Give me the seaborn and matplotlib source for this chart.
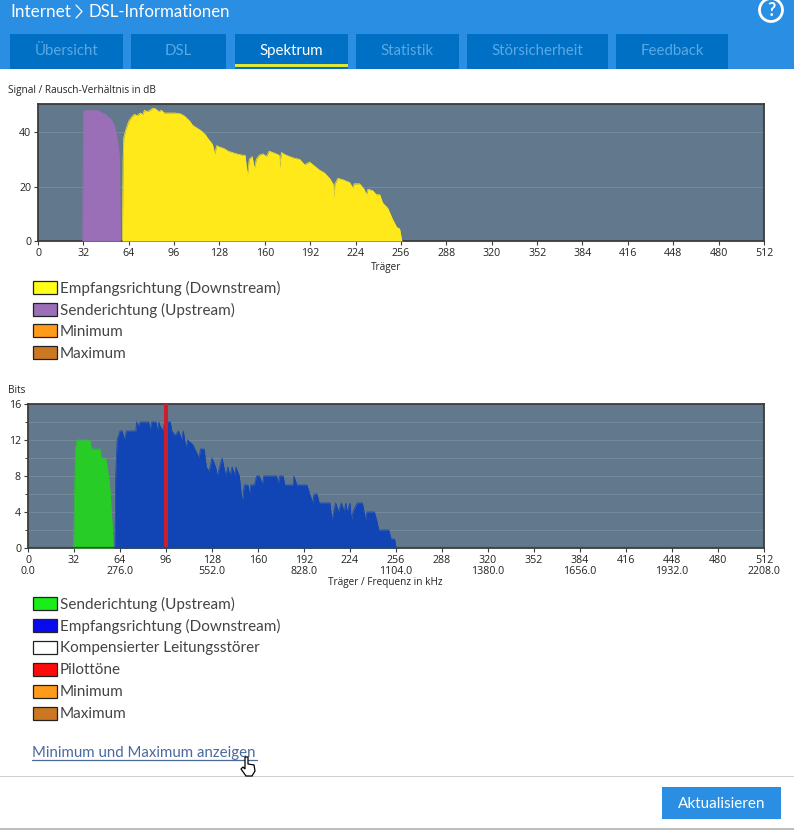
import matplotlib
matplotlib.use("Agg")
import matplotlib.pyplot as plt
import seaborn as sns
from matplotlib.patches import Rectangle, Circle, Polygon

W, H = 794, 830

# --- data
snr_down_x = [59.5, 60, 60.5, 62, 64, 66, 68, 70, 72, 74, 75, 77, 79, 81, 83, 85, 87, 89, 92, 96, 100, 103, 105, 107,
              109, 112, 115, 118, 120, 123, 124.6, 126, 128, 131, 134, 137, 140, 144, 146, 147.6, 149, 151, 152.5,
              154, 156, 158.7, 161, 163, 168, 170, 170.4, 171.6, 175, 180, 184.5, 188, 191.5, 195, 198.6, 202,
              205.6, 208, 208.7, 209.4, 211.5, 215, 219.7, 222, 223, 226.8, 230, 231.5, 232.7, 236, 238.5, 241,
              243, 246.7, 250, 253, 255, 256.6]
snr_down_y = [0, 30, 38, 41, 44, 45.5, 46.5, 46, 47, 46.5, 48, 47.5, 48, 48.8, 48.5, 47.5, 48, 47, 47, 47, 46.8, 46,
              45, 44, 42.5, 41.5, 40.5, 39, 37.5, 35.5, 32, 35, 34.5, 34, 33, 32.5, 32, 31.5, 31.5, 24, 30, 31, 26.6,
              30, 31.5, 32, 31, 33, 32, 31.5, 27, 32.5, 31.5, 30.5, 30, 28, 29, 27.5, 26, 25, 23, 21, 16, 21, 23,
              22.5, 21.5, 19.5, 21, 21, 19, 17, 19, 18.5, 17, 17, 14, 12, 8, 5, 4.5, 0]
snr_up_x = [31.5, 32, 33, 42, 45, 48, 49, 51, 53, 54, 55, 56, 57, 57.5, 58]
snr_up_y = [0, 47, 48, 48, 47, 46.5, 45.5, 45, 43.5, 42, 40, 37, 33, 28, 0]

bits_up_x = [31.7, 33, 34, 43, 44, 50, 51, 54, 55, 56, 57, 58, 59.4]
bits_up_y = [0, 11, 12, 12, 11, 11, 10, 10, 9, 8, 6.5, 4, 0]
bits_down_x = [60.5, 61, 62, 63, 64, 65.5, 67, 68.5, 75, 75.5, 77, 78, 84, 85, 86, 89, 90, 91, 92, 94, 95, 99, 100,
               102.3, 104.7, 107, 108, 110, 111, 114.5, 116, 119, 120, 122.5, 124, 126, 128, 130.5, 131.7, 135,
               137.5, 139, 140.6, 142, 144, 144.6, 147, 149, 150.5, 153, 154, 155, 157.5, 159, 161, 163, 164, 173,
               174, 175, 177.5, 178.6, 184.5, 185, 187, 190, 191.5, 194, 196, 198, 199, 201, 202.6, 210, 211.5,
               212.6, 214, 216, 218, 220, 221, 222, 224, 225, 226, 229, 232.6, 235, 235.7, 241, 242.7, 244, 251,
               252.6, 255, 256]
bits_down_y = [0, 8, 12, 12.5, 13, 13, 12, 13, 13, 14, 13.5, 14, 14, 13, 14, 14, 13, 14, 13.5, 13, 14, 14, 13, 12.5,
               13, 12, 13, 11, 12, 11.5, 11, 10, 11, 11, 9, 8.5, 10, 9, 8, 10, 8, 9, 8, 9, 8, 9, 8, 5, 7, 7, 6, 7, 7,
               8, 8, 7, 8, 8, 7, 8, 8, 7, 7, 8, 7, 7, 7, 7, 6, 5, 6, 6, 5, 5, 3, 4, 5, 4, 5, 4, 5, 4, 5, 3, 4, 5, 5,
               3, 4, 4, 3, 2, 2, 1, 1, 0]
pilot_tones = [96]

carrier_ticks = list(range(0, 513, 32))
freq_labels = ["0.0", "276.0", "552.0", "828.0", "1104.0", "1380.0", "1656.0", "1932.0", "2208.0"]

tabs = ["Übersicht", "DSL", "Spektrum", "Statistik", "Störsicherheit", "Feedback"]
tab_edges = [(10, 123), (131, 226), (235, 348), (356, 459), (467, 608), (616, 728)]
legend_top = [("Empfangsrichtung (Downstream)", "#ffff19"), ("Senderichtung (Upstream)", "#9b6fb8"),
              ("Minimum", "#ff9a1a"), ("Maximum", "#cc7722")]
legend_bottom = [("Senderichtung (Upstream)", "#19ee19"), ("Empfangsrichtung (Downstream)", "#0a0aee"),
                 ("Kompensierter Leitungsstörer", "#ffffff"), ("Pilottöne", "#ff0a0a"),
                 ("Minimum", "#ff9a1a"), ("Maximum", "#cc7722")]

SMALL_FONT = ["Open Sans", "DejaVu Sans"]

sns.set_style("white")
plt.rcParams["font.family"] = ["Lato", "DejaVu Sans"]

fig = plt.figure(figsize=(W / 100, H / 100), dpi=100)

# page chrome in pixel coordinates
ui = fig.add_axes([0, 0, 1, 1])
ui.set_xlim(0, W)
ui.set_ylim(H, 0)
ui.axis("off")


def box(x0, y0, x1, y1, color, **kw):
    ui.add_patch(Rectangle((x0, y0), x1 - x0, y1 - y0, facecolor=color, edgecolor=kw.pop("edge", "none"), **kw))


box(0, 0, W, 69, "#2a8ee2")
ui.text(10, 12, "Internet", color="white", fontsize=12.3, va="center")
ui.plot([76, 82, 76], [5, 11.5, 18], color="white", lw=0.9)
ui.text(89, 12, "DSL-Informationen", color="white", fontsize=12.1, va="center")
ui.add_patch(Circle((771, 10), 11.5, facecolor="none", edgecolor="white", lw=2))
ui.text(771, 10.5, "?", color="white", fontsize=13, fontweight="bold", ha="center", va="center")

for name, (x0, x1) in zip(tabs, tab_edges):
    box(x0, 34, x1, 69, "#0070c4")
    active = name == "Spektrum"
    ui.text((x0 + x1) / 2, 51, name, color="white" if active else "#5aa9e6", fontsize=10.8, ha="center", va="center")
    if active:
        box(x0, 64, x1, 67, "#dfe63a")

ui.text(8, 90.5, "Signal / Rausch-Verhältnis in dB", fontsize=7.2, color="#222222", va="center", family=SMALL_FONT)
ui.text(8, 390.5, "Bits", fontsize=7.2, color="#222222", va="center", family=SMALL_FONT)

for rows, start in ((legend_top, 287), (legend_bottom, 603)):
    for i, (label, color) in enumerate(rows):
        y = start + i * 22
        box(33, y - 6.5, 57, y + 6.5, color, edge="#222222", lw=0.9)
        ui.text(60, y + 1, label, fontsize=10.95, color="#444444", va="center")

ui.text(32, 753, "Minimum und Maximum anzeigen", fontsize=10.85, color="#4a6a9c", va="center")
ui.plot([32, 257], [759.5, 759.5], color="#4a6a9c", lw=0.9)
ui.add_patch(Polygon([(245, 757), (248, 757), (248, 764), (254, 765), (255, 771), (252, 776), (246, 776), (241, 769),
                      (243, 767), (245, 769)], facecolor="white", edgecolor="black", lw=0.9, zorder=5))

box(0, 776, W, 777, "#cfcfcf")
box(662, 787, 781, 819, "#2a8ee2")
ui.text(721.5, 804, "Aktualisieren", color="white", fontsize=10.95, ha="center", va="center")
box(0, 828, W, 830, "#bdbdbd")


def chart_axes(x0, y0, x1, y1):
    ax = fig.add_axes([x0 / W, 1 - y1 / H, (x1 - x0) / W, (y1 - y0) / H])
    ax.set_facecolor("#62788d")
    ax.set_xlim(0, 512)
    ax.set_xticks(carrier_ticks)
    for side in ax.spines.values():
        side.set_color("#3c3c3c")
        side.set_linewidth(1.3)
    ax.tick_params(axis="both", which="major", length=3, width=0.8, color="#3c3c3c", labelsize=7.7, pad=2,
                   labelcolor="#222222", bottom=True, left=True)
    for lab in ax.get_xticklabels() + ax.get_yticklabels():
        lab.set_family(SMALL_FONT)
    return ax


def area(ax, xs, ys, color):
    sns.lineplot(x=xs, y=ys, ax=ax, color=color, lw=0.5, sort=False, estimator=None, zorder=3)
    ax.fill_between(xs, ys, color=color, lw=0, zorder=3)


# --- SNR chart
ax1 = chart_axes(38, 104, 764, 241)
ax1.set_ylim(0, 50.3)
ax1.set_yticks([0, 20, 40])
for v in (20, 40):
    ax1.axhline(v, color="#74899b", lw=0.7, zorder=1)
area(ax1, snr_up_x, snr_up_y, "#9b6fb8")
area(ax1, snr_down_x, snr_down_y, "#ffe91a")
ax1.set_xlabel("Träger", fontsize=7.2, color="#222222", family=SMALL_FONT, va="center")
ax1.xaxis.set_label_coords(0.479, -0.19)

# --- bit loading chart
ax2 = chart_axes(28, 404, 764, 548)
ax2.set_ylim(0, 16)
ax2.set_yticks([0, 4, 8, 12, 16])
ax2.set_yticks(range(2, 16, 4), minor=True)
ax2.tick_params(axis="y", which="minor", length=2, width=0.7, color="#3c3c3c", left=True)
for v in range(2, 16, 2):
    ax2.axhline(v, color="#74899b", lw=0.7, zorder=1)
area(ax2, bits_up_x, bits_up_y, "#27cc27")
area(ax2, bits_down_x, bits_down_y, "#1144b4")
ax2.vlines(pilot_tones, 0, 16, color="#cc1f2e", lw=2.9, zorder=4)
ax2.axhline(0, color="#1f5a2a", lw=1.6, zorder=5)
ax2.set_xticklabels([f"{c}\n{freq_labels[i // 2]}" if i % 2 == 0 else f"{c}\n" for i, c in enumerate(carrier_ticks)],
                    linespacing=1.05, family=SMALL_FONT)
ax2.set_xlabel("Träger / Frequenz in kHz", fontsize=7.2, color="#222222", family=SMALL_FONT, va="center")
ax2.xaxis.set_label_coords(0.486, -0.243)

fig.savefig("out.png", dpi=100)
